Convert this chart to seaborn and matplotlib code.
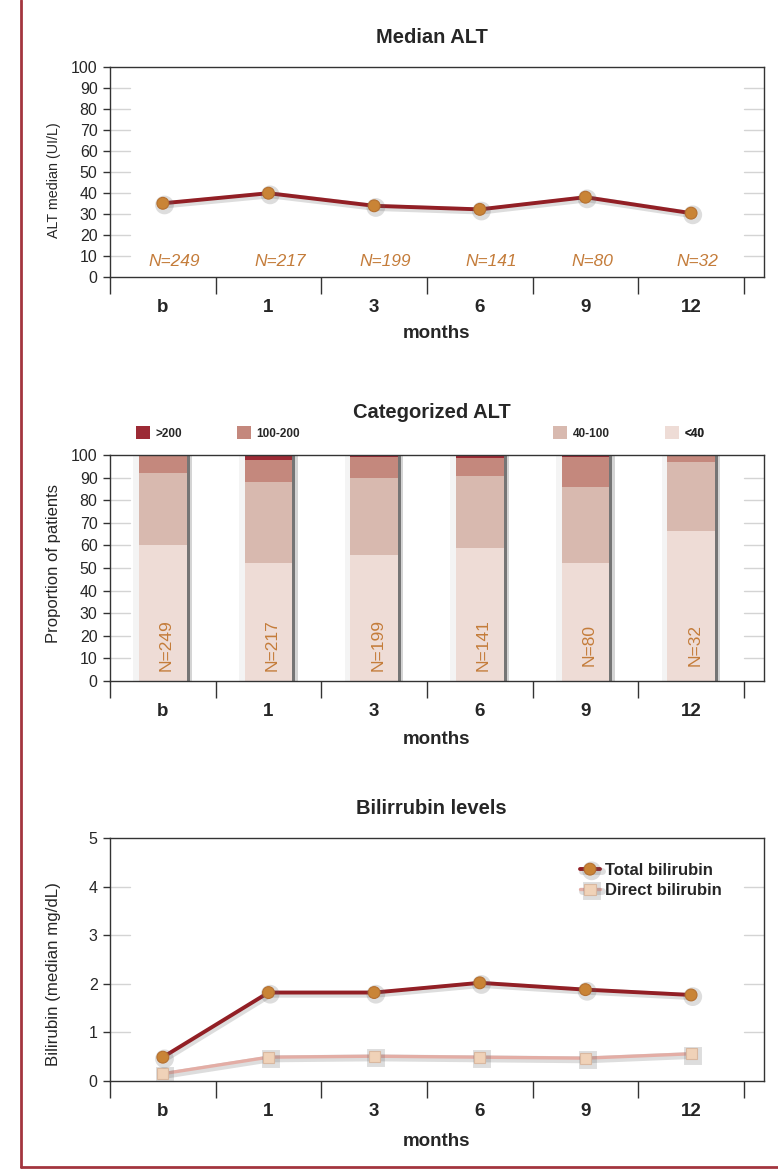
import matplotlib
matplotlib.use('Agg')
import matplotlib.pyplot as plt
import matplotlib.patheffects as pe
from matplotlib.lines import Line2D
from matplotlib.patches import Patch
import seaborn as sns
import numpy as np
import pandas as pd

# ---------------- data ----------------
months = ['b', '1', '3', '6', '9', '12']
n_patients = [249, 217, 199, 141, 80, 32]
alt_median = [35.1, 39.9, 33.9, 32.2, 38.0, 30.4]
alt_lt40 = [60.3, 52.2, 55.9, 58.8, 52.2, 66.2]
alt_40_100 = [31.6, 36.0, 34.1, 32.1, 33.8, 30.8]
alt_100_200 = [7.7, 9.6, 9.0, 7.9, 13.0, 2.6]
alt_gt200 = [0.4, 2.2, 1.0, 1.2, 1.0, 0.4]
bili_total = [0.49, 1.82, 1.82, 2.02, 1.88, 1.77]
bili_direct = [0.15, 0.49, 0.51, 0.49, 0.47, 0.56]
cat_labels = ['>200', '100-200', '40-100', '<40']

# ---------------- style ----------------
sns.set_theme(style='white')
plt.rcParams['font.family'] = ['Liberation Sans', 'DejaVu Sans']
plt.rcParams['axes.linewidth'] = 1.0

C_LINE = '#921F25'
C_MARK = '#C98436'
C_TEXT = '#C47C3A'
C_CAT = ['#9C2A35', '#C4887D', '#D8B9AF', '#EEDCD6']
C_DIRECT_LINE = '#E3ADA5'
C_DIRECT_MARK = '#F0D2B8'

W, H = 778, 1172
fig = plt.figure(figsize=(W / 100, H / 100), dpi=100)

def axrect(top, bottom, left=110, right=764):
    return [left / W, 1 - bottom / H, (right - left) / W, (bottom - top) / H]

ax1 = fig.add_axes(axrect(67, 277))
ax2 = fig.add_axes(axrect(455, 681))
ax3 = fig.add_axes(axrect(838, 1081))

df_alt = pd.DataFrame({'month': months, 'pos': np.arange(len(months)), 'alt': alt_median})
df_bili = pd.DataFrame({'month': months, 'pos': np.arange(len(months)),
                        'total': bili_total, 'direct': bili_direct})

XMAX = 5.69

def style_axes(ax, ymax, ystep, title, ylabel, ylab_y, ylab_size, title_pad, xlab_pad):
    ax.set_xlim(-0.5, XMAX)
    ax.set_ylim(0, ymax)
    yt = np.arange(0, ymax + ystep / 2, ystep)
    ax.set_yticks(yt)
    ax.set_yticklabels([f'{v:g}' for v in yt])
    ax.set_xticks(np.arange(-0.5, len(months), 1))
    ax.set_xticklabels([''] * (len(months) + 1))
    ax.set_xticks(np.arange(len(months)), minor=True)
    ax.set_xticklabels(months, minor=True, fontweight='bold', fontsize=13.5)
    ax.tick_params(axis='x', which='major', length=12, width=1, color='#333333', direction='out', bottom=True)
    ax.tick_params(axis='x', which='minor', length=0, pad=16, bottom=True)
    ax.tick_params(axis='y', which='major', length=5, width=1, color='#333333', labelsize=11.5, pad=4, left=True)
    for s in ax.spines.values():
        s.set_visible(True)
        s.set_color('#333333')
        s.set_linewidth(1)
    ax.grid(False)
    xr = (5.5 + 0.5) / (XMAX + 0.5)
    for v in yt[1:-1]:
        ax.axhline(v, xmin=0, xmax=0.031, color='#d4d4d4', lw=1, zorder=0.5)
        ax.axhline(v, xmin=xr, xmax=1, color='#d4d4d4', lw=1, zorder=0.5)
    ax.set_title(title, fontsize=14.5, fontweight='bold', pad=title_pad, x=0.492)
    ax.set_xlabel('months', fontsize=13.5, fontweight='bold', labelpad=xlab_pad)
    ax.set_ylabel(ylabel, fontsize=ylab_size, va='center')
    ax.yaxis.set_label_coords((53.5 - 110) / 654, ylab_y)

line_fx = [pe.SimpleLineShadow(offset=(1.2, -1.2), shadow_color='#666666', alpha=0.22, linewidth=5),
           pe.Normal()]

# ---------------- panel 1: Median ALT ----------------
sns.lineplot(data=df_alt, x='pos', y='alt', ax=ax1, color=C_LINE, lw=2.8,
             marker='o', markersize=8.5, markerfacecolor=C_MARK, markeredgecolor='#B57030',
             markeredgewidth=0.8, path_effects=line_fx, zorder=3)
for i, n in enumerate(n_patients):
    ax1.text(i - 0.135, 7.4, f'N={n}', ha='left', va='center', fontsize=12.5,
             style='italic', color=C_TEXT)
style_axes(ax1, 100, 10, 'Median ALT', 'ALT median (UI/L)', 0.46, 10.3, 17, 6)

# ---------------- panel 2: Categorized ALT ----------------
cum_lt40 = np.array(alt_lt40)
cum_40_100 = cum_lt40 + np.array(alt_40_100)
cum_100_200 = cum_40_100 + np.array(alt_100_200)
cum_gt200 = cum_100_200 + np.array(alt_gt200)
cums = [cum_gt200, cum_100_200, cum_40_100, cum_lt40]
for k, (cum, col) in enumerate(zip(cums, C_CAT)):
    before = len(ax2.patches)
    sns.barplot(x=months, y=cum, color=col, saturation=1, width=0.45, ax=ax2,
                order=months, linewidth=0, zorder=2)
    if k == 0:
        for p in ax2.patches[before:]:
            p.set_path_effects([
                pe.SimplePatchShadow(offset=(-4, 0), shadow_rgbFace='#cccccc', alpha=0.2),
                pe.SimplePatchShadow(offset=(4, 0), shadow_rgbFace='#aaaaaa', alpha=0.5),
                pe.SimplePatchShadow(offset=(2.2, 0), shadow_rgbFace='#555555', alpha=0.75),
                pe.Normal()])
for i, n in enumerate(n_patients):
    ax2.text(i + 0.035, 16, f'N={n}', ha='center', va='center', rotation=90,
             fontsize=12.5, color=C_TEXT, zorder=5)
style_axes(ax2, 100, 10, 'Categorized ALT', 'Proportion of patients', 0.518, 12, 27, 8)

leg_x = [136, 237, 553, 665]
for lab, col, lx in zip(cat_labels, C_CAT, leg_x):
    lg = ax2.legend(handles=[Patch(facecolor=col, edgecolor='none', label=lab)],
                    loc='center left', bbox_to_anchor=((lx - 110) / 654, (681 - 433) / 226),
                    frameon=False, borderpad=0, borderaxespad=0, handlelength=1.2,
                    handleheight=1.2, handletextpad=0.45,
                    prop={'size': 8.5, 'weight': 'bold'})
    ax2.add_artist(lg)

# ---------------- panel 3: Bilirubin ----------------
sns.lineplot(data=df_bili, x='pos', y='total', ax=ax3, color=C_LINE, lw=2.8,
             marker='o', markersize=8.5, markerfacecolor=C_MARK, markeredgecolor='#B57030',
             markeredgewidth=0.8, path_effects=line_fx, zorder=4, label='Total bilirubin')
sns.lineplot(data=df_bili, x='pos', y='direct', ax=ax3, color=C_DIRECT_LINE, lw=2.4,
             marker='s', markersize=8, markerfacecolor=C_DIRECT_MARK, markeredgecolor='#D9B8A0',
             markeredgewidth=0.8, path_effects=line_fx, zorder=3, label='Direct bilirubin')
style_axes(ax3, 5, 1, 'Bilirrubin levels', 'Bilirubin (median mg/dL)', 0.442, 12.2, 17, 9)
ax3.legend(loc='upper left', bbox_to_anchor=((580 - 110) / 654, (1081 - 863) / 243),
           frameon=False, borderpad=0, borderaxespad=0, handlelength=1.2,
           handletextpad=0.3, labelspacing=0.3, numpoints=1,
           prop={'size': 12, 'weight': 'bold'})

# ---------------- outer frame ----------------
xf = 21 / W
yf = 1 - 1167 / H
fig.add_artist(Line2D([xf, xf], [yf, 1], transform=fig.transFigure, color='#A3353F', lw=2))
fig.add_artist(Line2D([xf, 1], [yf, yf], transform=fig.transFigure, color='#A3353F', lw=2))

fig.savefig('out.png', dpi=100)
